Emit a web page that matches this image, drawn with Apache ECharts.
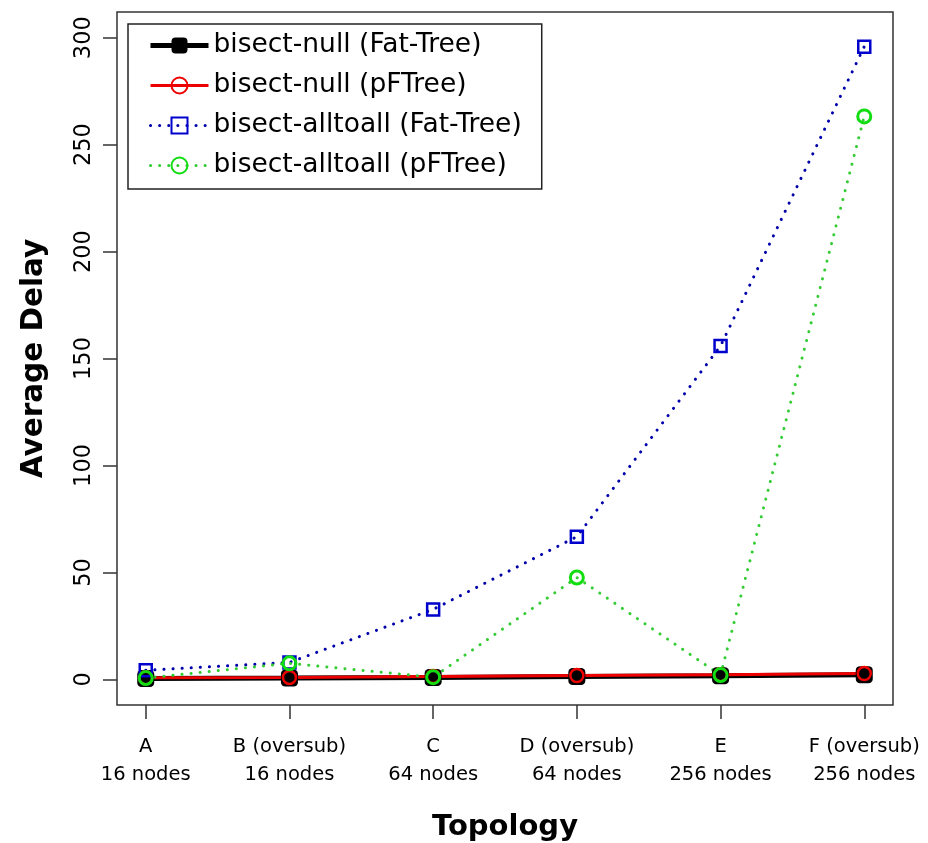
<!DOCTYPE html>
<html>
<head>
<meta charset="utf-8">
<script src="https://cdn.jsdelivr.net/npm/echarts@6/dist/echarts.min.js"></script>
<style>
  html, body { margin: 0; padding: 0; background: #fff; }
  #chart { width: 928px; height: 843px; }
</style>
</head>
<body>
<div id="chart"></div>
<script>
  // topologies on the x axis
  const topologies = ['A\n16 nodes', 'B (oversub)\n16 nodes', 'C\n64 nodes', 'D (oversub)\n64 nodes', 'E\n256 nodes', 'F (oversub)\n256 nodes'];
  const yTicks = [0, 50, 100, 150, 200, 250, 300];

  // average delay per topology
  const nullFatTree = [0.4, 0.6, 0.9, 1.3, 1.7, 2.2];
  const nullPFTree = [0.7, 0.9, 1.3, 1.8, 2.2, 2.7];
  const alltoallFatTree = [4.2, 7.9, 32.7, 66.7, 155.9, 295.8];
  const alltoallPFTree = [0.6, 7.5, 1.0, 47.6, 2.0, 263.2];

  const xIdx = topologies.map((_, i) => i);
  const toPoints = arr => arr.map((v, i) => [i, v]);

  const font = 'DejaVu Sans';
  const dots = [0.1, 9];
  const chart = echarts.init(document.getElementById('chart'));

  const option = {
    animation: false,
    backgroundColor: '#fff',
    textStyle: { fontFamily: font },
    grid: {
      left: 117,
      right: 35,
      top: 12,
      bottom: 138,
      outerBoundsMode: 'none',
      show: true,
      borderColor: '#333',
      borderWidth: 1.5,
    },
    legend: {
      orient: 'vertical',
      left: 128,
      top: 24,
      padding: [8, 20, 10, 20],
      itemGap: 13,
      itemWidth: 58,
      itemHeight: 20,
      borderColor: '#222',
      borderWidth: 1.5,
      textStyle: { fontFamily: font, fontSize: 26.5, lineHeight: 27, color: '#000' },
      data: [
        { name: 'bisect-null (Fat-Tree)', lineStyle: { width: 5 } },
        { name: 'bisect-null (pFTree)', lineStyle: { width: 3 } },
        { name: 'bisect-alltoall (Fat-Tree)', lineStyle: { width: 3, type: dots, cap: 'round' } },
        { name: 'bisect-alltoall (pFTree)', lineStyle: { width: 3, type: dots, cap: 'round' } },
      ],
    },
    xAxis: {
      type: 'value',
      min: -0.2,
      max: 5.2,
      name: 'Topology',
      nameLocation: 'middle',
      nameGap: 108,
      nameTextStyle: { fontFamily: font, fontSize: 29, fontWeight: 'bold', color: '#000' },
      axisLine: { show: false, onZero: false },
      axisTick: { show: true, length: 14, customValues: xIdx, lineStyle: { color: '#333', width: 1.5 } },
      axisLabel: {
        customValues: xIdx,
        formatter: v => topologies[Math.round(v)],
        fontFamily: font,
        fontSize: 19.5,
        lineHeight: 28,
        color: '#000',
        margin: 28,
      },
      splitLine: { show: false },
    },
    yAxis: {
      type: 'value',
      min: -12,
      max: 312,
      name: 'Average Delay',
      nameLocation: 'middle',
      nameGap: 68,
      nameTextStyle: { fontFamily: font, fontSize: 29.5, fontWeight: 'bold', color: '#000' },
      axisLine: { show: false, onZero: false },
      axisTick: { show: true, length: 14, customValues: yTicks, lineStyle: { color: '#333', width: 1.5 } },
      axisLabel: {
        customValues: yTicks,
        rotate: 90,
        fontFamily: font,
        fontSize: 22.5,
        color: '#000',
        margin: 21,
      },
      splitLine: { show: false },
    },
    series: [
      {
        name: 'bisect-null (Fat-Tree)',
        type: 'line',
        data: toPoints(nullFatTree),
        symbol: 'roundRect',
        symbolSize: 17,
        itemStyle: { color: '#000' },
        lineStyle: { color: '#000', width: 5 },
      },
      {
        name: 'bisect-null (pFTree)',
        type: 'line',
        data: toPoints(nullPFTree),
        symbol: 'circle',
        symbolSize: 13,
        itemStyle: { color: 'rgba(0,0,0,0)', borderColor: '#ee0000', borderWidth: 2.5 },
        lineStyle: { color: '#ee0000', width: 3 },
      },
      {
        name: 'bisect-alltoall (Fat-Tree)',
        type: 'line',
        data: toPoints(alltoallFatTree),
        symbol: 'rect',
        symbolSize: 12,
        itemStyle: { color: 'rgba(0,0,0,0)', borderColor: '#0000cc', borderWidth: 2.5 },
        lineStyle: { color: '#0000aa', width: 3, type: dots, cap: 'round' },
      },
      {
        name: 'bisect-alltoall (pFTree)',
        type: 'line',
        data: toPoints(alltoallPFTree),
        symbol: 'circle',
        symbolSize: 13,
        itemStyle: { color: 'rgba(0,0,0,0)', borderColor: '#11dd11', borderWidth: 3 },
        lineStyle: { color: '#33cc33', width: 3, type: dots, cap: 'round' },
      },
    ],
  };

  chart.setOption(option);
</script>
</body>
</html>
